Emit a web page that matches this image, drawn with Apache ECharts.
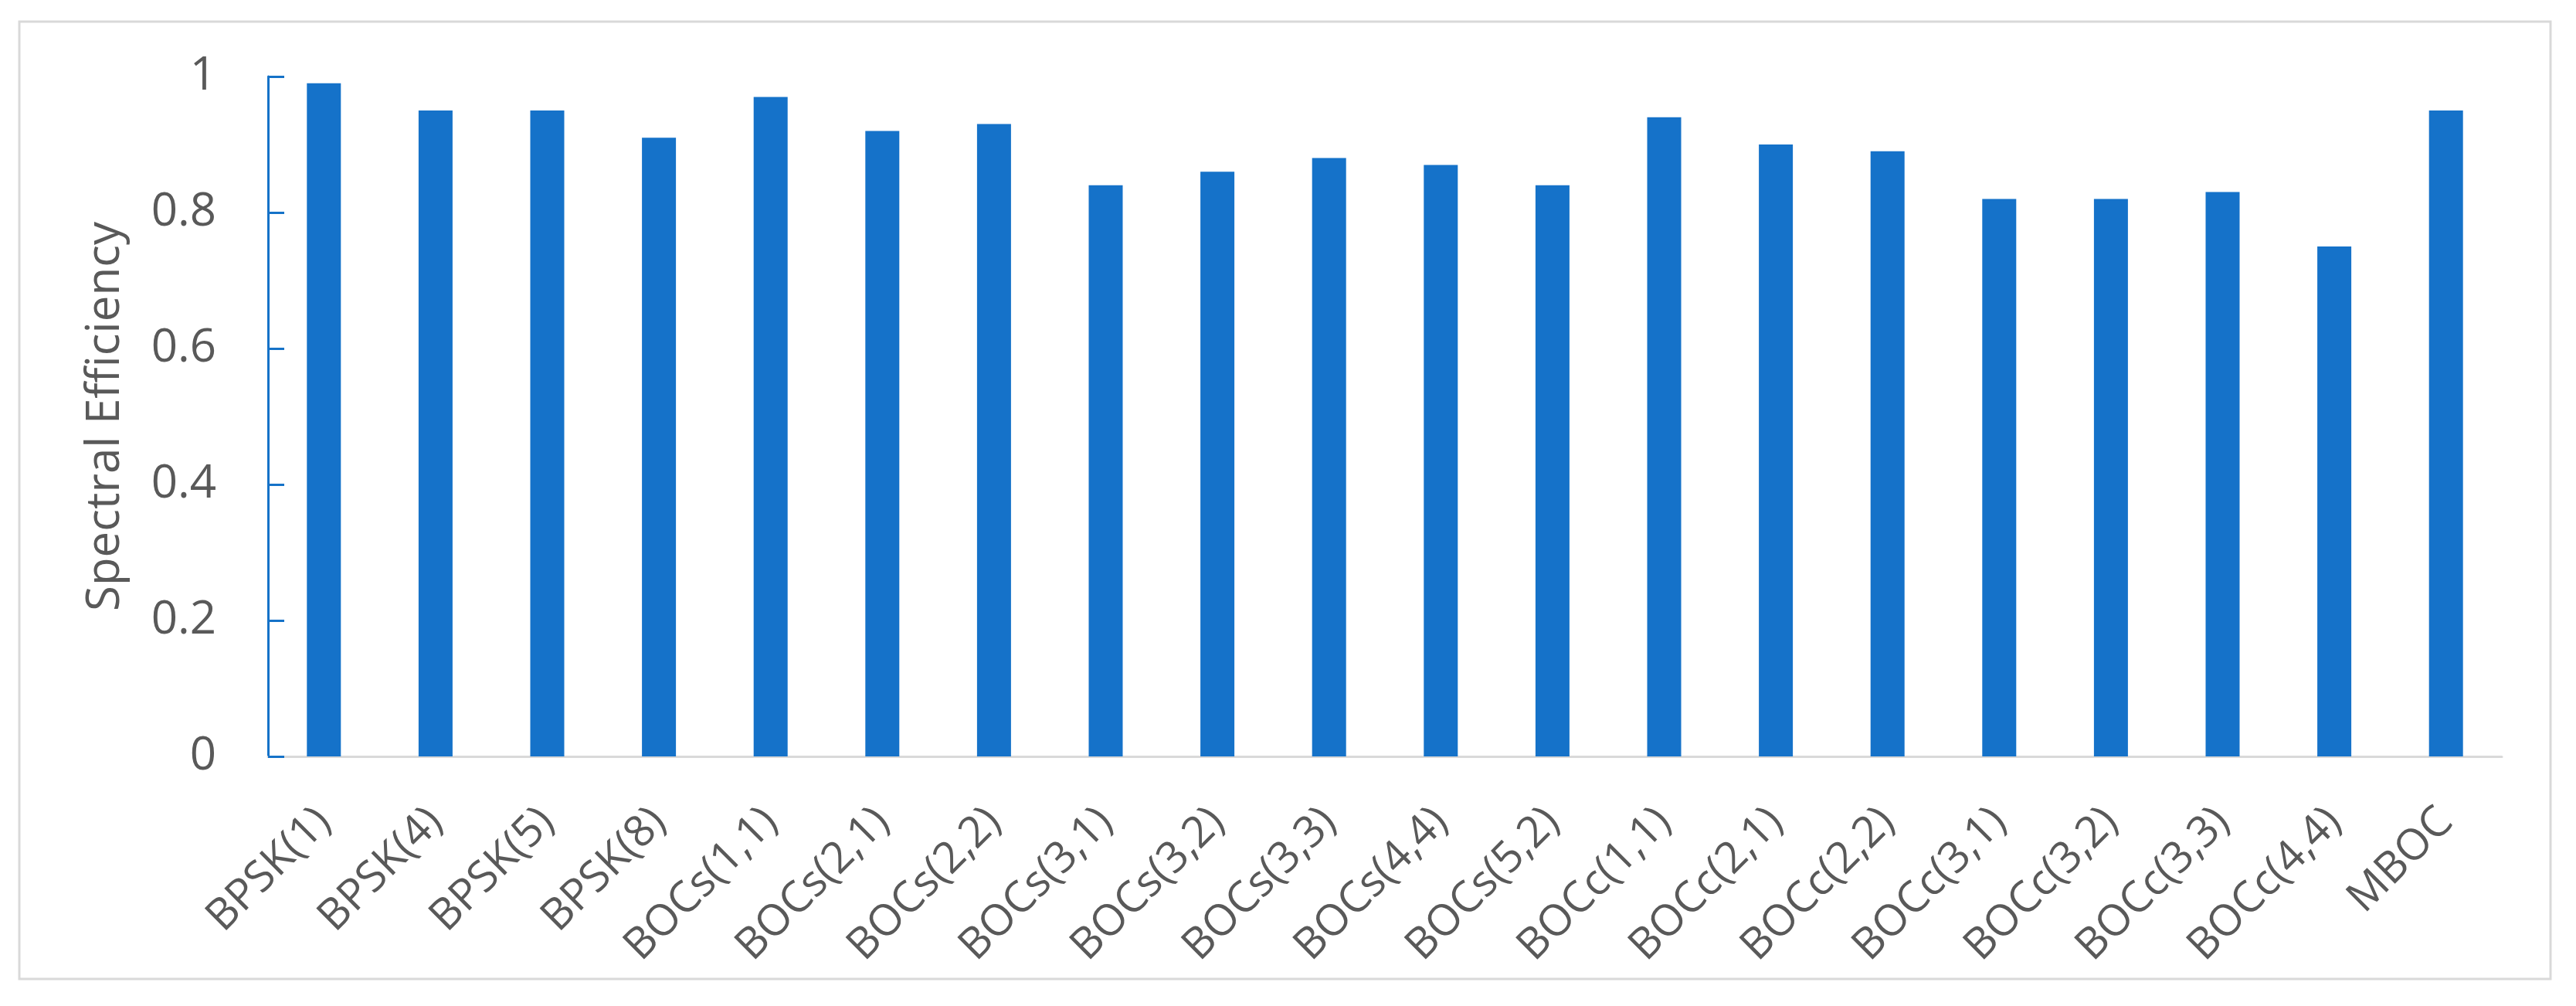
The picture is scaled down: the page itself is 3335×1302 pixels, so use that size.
<!DOCTYPE html>
<html>
<head>
<meta charset="utf-8">
<style>
  html, body { margin: 0; padding: 0; background: #fff; }
  #chart { width: 3335px; height: 1302px; }
</style>
<script src="https://cdn.jsdelivr.net/npm/echarts@6/dist/echarts.min.js"></script>
</head>
<body>
<div id="chart"></div>
<script>
  // signal names along the x axis
  var categories = ['BPSK(1)', 'BPSK(4)', 'BPSK(5)', 'BPSK(8)', 'BOCs(1,1)', 'BOCs(2,1)', 'BOCs(2,2)',
    'BOCs(3,1)', 'BOCs(3,2)', 'BOCs(3,3)', 'BOCs(4,4)', 'BOCs(5,2)', 'BOCc(1,1)', 'BOCc(2,1)',
    'BOCc(2,2)', 'BOCc(3,1)', 'BOCc(3,2)', 'BOCc(3,3)', 'BOCc(4,4)', 'MBOC'];
  // spectral efficiency per signal
  var efficiency = [0.99, 0.95, 0.95, 0.91, 0.97, 0.92, 0.93, 0.84, 0.86, 0.88,
    0.87, 0.84, 0.94, 0.90, 0.89, 0.82, 0.82, 0.83, 0.75, 0.95];
  var yTicks = [0, 0.2, 0.4, 0.6, 0.8, 1];

  var textColor = '#595959';
  var fontName = 'Open Sans';

  var chart = echarts.init(document.getElementById('chart'));
  var option = {
    backgroundColor: '#fff',
    animation: false,
    textStyle: {fontFamily: fontName, color: textColor},
    graphic: [{
      type: 'rect',
      shape: {x: 25, y: 28, width: 3277, height: 1239},
      style: {fill: 'none', stroke: '#d9d9d9', lineWidth: 3},
      silent: true
    }],
    grid: {left: 347, right: 96, top: 99, bottom: 323},
    xAxis: {
      type: 'category',
      data: categories,
      axisLine: {lineStyle: {color: '#d9d9d9', width: 3}},
      axisTick: {show: false},
      axisLabel: {
        rotate: 45,
        interval: 0,
        margin: 76,
        fontSize: 56,
        fontFamily: fontName,
        color: textColor
      }
    },
    yAxis: {
      type: 'value',
      min: yTicks[0],
      max: yTicks[yTicks.length - 1],
      interval: 0.2,
      name: 'Spectral Efficiency',
      nameLocation: 'middle',
      nameGap: 180,
      nameTextStyle: {fontSize: 60, fontFamily: fontName, color: textColor},
      axisLine: {show: true, lineStyle: {color: '#1572C8', width: 3}},
      axisTick: {show: true, inside: true, length: 21, lineStyle: {color: '#1572C8', width: 3}},
      splitLine: {show: false},
      axisLabel: {
        margin: 67,
        fontSize: 60,
        fontFamily: fontName,
        color: textColor
      }
    },
    series: [{
      type: 'bar',
      data: efficiency,
      barWidth: 44,
      itemStyle: {color: '#1572C9'}
    }]
  };
  chart.setOption(option);
</script>
</body>
</html>
